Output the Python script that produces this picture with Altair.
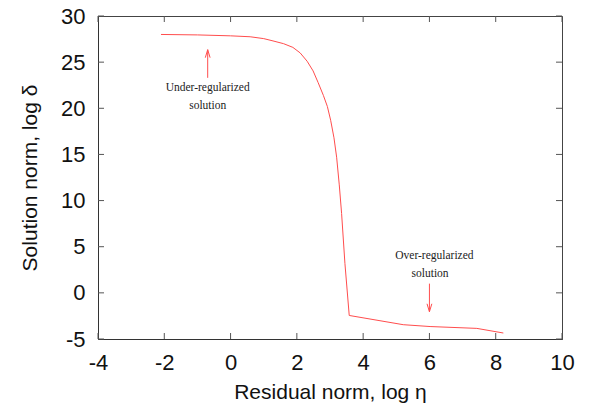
import altair as alt
import pandas as pd

# L-curve data
curve_x = [-2.10, -1.0, 0.0, 0.59, 1.0, 1.28, 1.60, 1.88, 2.10, 2.31, 2.49, 2.64, 2.80, 2.92, 3.02, 3.12, 3.20, 3.28, 3.35, 3.45, 3.58, 5.21, 6.02, 7.43, 8.23]
curve_y = [28.0, 27.95, 27.85, 27.75, 27.55, 27.3, 27.0, 26.6, 26.0, 25.1, 24.05, 22.8, 21.4, 20.2, 18.7, 16.8, 14.7, 11.7, 8.6, 3.2, -2.45, -3.45, -3.65, -3.85, -4.35]

x_ticks = [-4, -2, 0, 2, 4, 6, 8, 10]
y_ticks = [-5, 0, 5, 10, 15, 20, 25, 30]

note_text = ["Under-regularized", "solution", "Over-regularized", "solution"]
note_x = [-0.69, -0.69, 6.15, 6.02]
note_y = [22.25, 20.3, 4.0, 2.05]

arrow_x = [-0.69, 6.0]
arrow_from = [23.3, 1.0]
arrow_tip = [26.35, -2.05]
arrow_dir = ["up", "down"]

W, H = 464, 323
RED = "#ff4d4d"

xs = alt.Scale(domain=[-4, 10], nice=False, zero=False)
ys = alt.Scale(domain=[-5, 30], nice=False, zero=False)

fix_minus = "replace(datum.label, '\u2212', '-')"

curve = pd.DataFrame({"x": curve_x, "y": curve_y, "i": range(len(curve_x))})
line = alt.Chart(curve).mark_line(color=RED, strokeWidth=1, clip=True).encode(
    x=alt.X("x:Q", scale=xs,
            axis=alt.Axis(title="Residual norm, log η", values=x_ticks, grid=False, labelFlush=False,
                          labelExpr=fix_minus,
                          ticks=False, tickSize=0, labelPadding=13, titlePadding=8)),
    y=alt.Y("y:Q", scale=ys,
            axis=alt.Axis(title="Solution norm, log δ", values=y_ticks, grid=False, labelFlush=False,
                          labelExpr=fix_minus,
                          ticks=False, tickSize=0, labelPadding=13, titlePadding=20)),
    order="i:Q",
)

xt = pd.DataFrame({"x": x_ticks})
yt = pd.DataFrame({"y": y_ticks})
TC = "#555555"
xb = alt.Chart(xt).mark_rule(color=TC, strokeWidth=1).encode(
    x=alt.X("x:Q", scale=xs), y=alt.value(H), y2=alt.value(H - 6))
xtop = alt.Chart(xt).mark_rule(color=TC, strokeWidth=1).encode(
    x=alt.X("x:Q", scale=xs), y=alt.value(0), y2=alt.value(6))
yl = alt.Chart(yt).mark_rule(color=TC, strokeWidth=1).encode(
    y=alt.Y("y:Q", scale=ys), x=alt.value(0), x2=alt.value(6))
yr = alt.Chart(yt).mark_rule(color=TC, strokeWidth=1).encode(
    y=alt.Y("y:Q", scale=ys), x=alt.value(W), x2=alt.value(W - 6))

notes = pd.DataFrame({"t": note_text, "x": note_x, "y": note_y})
text = alt.Chart(notes).mark_text(font="Liberation Serif", fontSize=11.5, color="#222222",
                                  baseline="middle", align="center").encode(
    x=alt.X("x:Q", scale=xs), y=alt.Y("y:Q", scale=ys), text="t:N")

arrows = pd.DataFrame({"x": arrow_x, "y0": arrow_from, "y1": arrow_tip, "d": arrow_dir})
shafts = alt.Chart(arrows).mark_rule(color=RED, strokeWidth=1).encode(
    x=alt.X("x:Q", scale=xs), y=alt.Y("y0:Q", scale=ys), y2="y1:Q")
head_up = alt.Chart(arrows).transform_filter(alt.datum.d == "up").mark_point(
    shape="M -0.3 1 L 0 0 L 0.3 1", size=256, filled=False, color=RED, strokeWidth=1, opacity=1
).encode(x=alt.X("x:Q", scale=xs), y=alt.Y("y1:Q", scale=ys))
head_down = alt.Chart(arrows).transform_filter(alt.datum.d == "down").mark_point(
    shape="M -0.3 -1 L 0 0 L 0.3 -1", size=256, filled=False, color=RED, strokeWidth=1, opacity=1
).encode(x=alt.X("x:Q", scale=xs), y=alt.Y("y1:Q", scale=ys))

chart = alt.layer(line, xb, xtop, yl, yr, shafts, head_up, head_down, text).properties(
    width=W, height=H,
    autosize=alt.AutoSizeParams(type="none"),
    padding={"left": 90, "top": 8, "right": 30, "bottom": 64},
).configure_view(stroke="#444444", strokeWidth=1).configure_axis(
    labelFont="Liberation Sans", labelFontSize=22, labelColor="#111111",
    titleFont="Liberation Sans", titleFontSize=21, titleFontWeight="normal", titleColor="#111111",
    domainColor="#333333", domainWidth=1,
)

chart.save("out.html", embed_options={"renderer": "svg", "actions": False})
